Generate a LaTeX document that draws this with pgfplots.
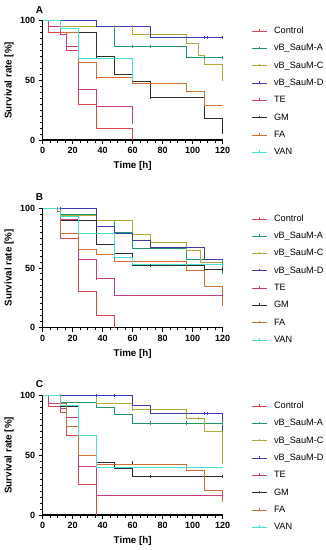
\documentclass[border=0pt]{standalone}
\usepackage{pgfplots}
\pgfplotsset{compat=1.18}
\usepackage{fontspec}
\setmainfont{Liberation Sans}
\definecolor{cCtrl}{RGB}{222,70,80}
\definecolor{cA}{RGB}{30,150,110}
\definecolor{cC}{RGB}{175,170,55}
\definecolor{cD}{RGB}{60,60,175}
\definecolor{cTE}{RGB}{200,60,130}
\definecolor{cGM}{RGB}{45,45,45}
\definecolor{cFA}{RGB}{205,110,50}
\definecolor{cVAN}{RGB}{70,225,215}
\pgfplotsset{
 kmaxis/.style={
  scale only axis, width=180pt, height=119.5pt,
  xmin=0,xmax=120,ymin=0,ymax=100,
  axis x line*=bottom, axis y line*=left,
  axis line style={line width=1.1pt,-},
  xtick={0,20,...,120}, ytick={0,50,100},
  minor x tick num=3, minor y tick num=9,
  tick align=outside, major tick length=4pt, minor tick length=2.5pt,
  tick style={line width=0.9pt, black},
  ticklabel style={font=\bfseries\fontsize{9}{10}\selectfont},
  /pgf/number format/assume math mode=true,
  xlabel={Time [h]}, ylabel={Survival rate [\%]},
  label style={font=\bfseries\fontsize{9.8}{11}\selectfont},
  xlabel style={at={(axis description cs:0.5,-0.218)}, anchor=center},
  ylabel style={at={(axis description cs:-0.187,0.5)}, anchor=center},
  clip=false,
  legend cell align=left,
  legend style={at={(axis description cs:1.1406,0.966)}, anchor=north west, draw=none, fill=none,
    font=\fontsize{9.2}{10}\selectfont, row sep=8.3pt, column sep=7pt,
    nodes={inner sep=0pt, text height=6.8pt, text depth=2.2pt}},
  legend image code/.code={\draw[#1, line width=0.8pt] (0pt,0pt) -- (15pt,0pt);
     \draw[#1, line width=0.8pt] (7.5pt,0pt) -- (7.5pt,2pt);},
 },
 km/.style={const plot, line width=0.8pt, #1},
 cens/.style={only marks, mark=|, mark size=1.6pt, forget plot, #1, mark options={line width=0.7pt}},
}
\begin{document}
\begin{tikzpicture}
\useasboundingbox (0,0) rectangle (326pt,-550pt);
% ---------------- Panel A
\begin{axis}[kmaxis, at={(42.7pt,-140pt)}, anchor=south west]
\addplot[km=cCtrl] coordinates {(0,100)(4,90)(16,75)(24,30)(36,10)(60,0)};
\addlegendentry{Control}
\addplot[km=cA] coordinates {(0,100)(12,95)(48,78.5)(96,69)(120,69)};
\addlegendentry{vB\_SauM-A}
\addplot[km=cC] coordinates {(0,100)(12,95)(60,88.5)(96,80.7)(104,70.5)(108,63)(120,51)};
\addlegendentry{vB\_SauM-C}
\addplot[km=cD] coordinates {(0,100)(36,95)(72,86)(120,86)};
\addlegendentry{vB\_SauM-D}
\addplot[km=cTE] coordinates {(0,100)(4,95)(12,88)(16,78)(24,42)(36,28)(60,15)};
\addlegendentry{TE}
\addplot[km=cGM] coordinates {(0,100)(12,90)(36,70)(48,55)(60,49)(72,36)(108,18)(120,5)};
\addlegendentry{GM}
\addplot[km=cFA] coordinates {(0,100)(12,90)(24,65)(36,52)(60,47)(96,41)(108,29)(120,29)};
\addlegendentry{FA}
\addplot[km=cVAN] coordinates {(0,100)(12,93)(24,68.5)(60,50)};
\addlegendentry{VAN}
\addplot[cens=cA] coordinates {(60,78.5)(72,78.5)(108,69)(120,69)};
\addplot[cens=cC] coordinates {(48,95)(60,95)(120,51)};
\addplot[cens=cD] coordinates {(108,86)(110,86)(120,86)};
\addplot[cens=cTE] coordinates {(36,28)(60,15)};
\addplot[cens=cGM] coordinates {(36,70)(72,36)};
\addplot[cens=cFA] coordinates {(36,52)};
\node[font=\bfseries\fontsize{10}{12}\selectfont] at (axis description cs:-0.018,1.09) {A};
\end{axis}
% ---------------- Panel B
\begin{axis}[kmaxis, at={(42.7pt,-327.7pt)}, anchor=south west]
\addplot[km=cCtrl] coordinates {(0,100)(12,75)(24,30)(36,10)(48,0)};
\addlegendentry{Control}
\addplot[km=cA] coordinates {(0,100)(12,95)(36,90)(48,80)(60,66.5)(96,57.5)(120,45)};
\addlegendentry{vB\_SauM-A}
\addplot[km=cC] coordinates {(0,100)(12,94)(36,90)(60,78)(72,71.5)(96,65)(105,55)(120,55)};
\addlegendentry{vB\_SauM-C}
\addplot[km=cD] coordinates {(0,100)(36,84.5)(48,79)(60,73)(72,67)(108,57)(120,57)};
\addlegendentry{vB\_SauM-D}
\addplot[km=cTE] coordinates {(0,100)(12,91)(24,57)(36,41)(48,27)(120,27)};
\addlegendentry{TE}
\addplot[km=cGM] coordinates {(0,100)(12,90)(36,70)(48,62.5)(60,52)(108,48.5)(120,48.5)};
\addlegendentry{GM}
\addplot[km=cFA] coordinates {(0,100)(10,97)(12,78.5)(24,65.5)(36,61.5)(48,55.5)(96,47.8)(108,34.4)(120,18)};
\addlegendentry{FA}
\addplot[km=cVAN] coordinates {(0,100)(12,93)(24,78.5)(48,59)(60,53)(120,53)};
\addlegendentry{VAN}
\addplot[cens=cGM] coordinates {(72,52)(120,48.5)};
\addplot[cens=cTE] coordinates {(36,41)(120,27)};
\addplot[cens=cD] coordinates {(12,100)};
\addplot[cens=cFA] coordinates {(10,100)};
\node[font=\bfseries\fontsize{10}{12}\selectfont] at (axis description cs:-0.018,1.09) {B};
\end{axis}
% ---------------- Panel C
\begin{axis}[kmaxis, at={(42.7pt,-515pt)}, anchor=south west]
\addplot[km=cCtrl] coordinates {(0,100)(4,91)(12,86)(16,66.7)(24,25.8)(36,0)};
\addlegendentry{Control}
\addplot[km=cA] coordinates {(0,100)(12,94.4)(36,90)(48,84)(60,77)(120,77)};
\addlegendentry{vB\_SauM-A}
\addplot[km=cC] coordinates {(0,100)(36,93.6)(60,88)(96,80.6)(108,70)(120,43)};
\addlegendentry{vB\_SauM-C}
\addplot[km=cD] coordinates {(0,100)(60,92)(72,85)(120,70)};
\addlegendentry{vB\_SauM-D}
\addplot[km=cTE] coordinates {(0,100)(4,93)(12,89)(16,81.5)(24,40.8)(36,16.7)(120,16.7)};
\addlegendentry{TE}
\addplot[km=cGM] coordinates {(0,100)(12,91)(24,66.7)(36,44)(48,39)(60,32)(120,32)};
\addlegendentry{GM}
\addplot[km=cFA] coordinates {(0,100)(12,93)(16,74.4)(24,50)(36,42.5)(96,37)(108,21)(120,11)};
\addlegendentry{FA}
\addplot[km=cVAN] coordinates {(0,100)(12,92)(24,66.7)(36,40)(120,40)};
\addlegendentry{VAN}
\addplot[cens=cA] coordinates {(72,77)(96,77)(120,77)};
\addplot[cens=cD] coordinates {(36,100)(48,100)(108,85)(110,85)};
\addplot[cens=cC] coordinates {(12,100)(60,88)(104,80.6)};
\addplot[cens=cGM] coordinates {(72,32)(120,32)(60,44)};
\addplot[cens=cTE] coordinates {(36,16.7)(120,16.7)};
\node[font=\bfseries\fontsize{10}{12}\selectfont] at (axis description cs:-0.018,1.096) {C};
\end{axis}
\end{tikzpicture}
\end{document}
